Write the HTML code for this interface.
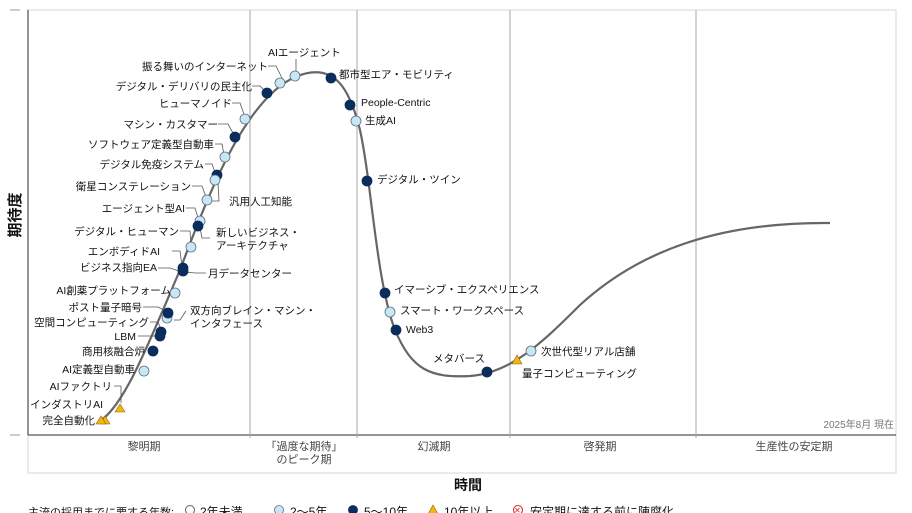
<!DOCTYPE html>
<html><head><meta charset="utf-8"><style>
html,body{margin:0;padding:0;background:#fff;}
svg{display:block;}
text{font-family:"Liberation Sans","Noto Sans CJK JP",sans-serif;font-size:10.5px;fill:#111;}
.l{stroke:#555;stroke-width:0.8;fill:none;}
.lt{fill:#c9e6f4;stroke:#5a6f80;stroke-width:0.8;}
.dk{fill:#0b2d5c;stroke:#0b2d5c;stroke-width:0.8;}
.tr{fill:#f3b515;stroke:#8a6a10;stroke-width:0.6;}
</style></head><body>
<svg width="912" height="513" viewBox="0 0 912 513" xmlns="http://www.w3.org/2000/svg">
<rect x="28" y="10" width="868" height="463" fill="none" stroke="#e3e3e3" stroke-width="1.5"/>
<line x1="28" y1="10" x2="28" y2="435" stroke="#555" stroke-width="1.2"/>
<line x1="28" y1="435" x2="896" y2="435" stroke="#555" stroke-width="1.2"/>
<line x1="10" y1="10" x2="20" y2="10" stroke="#999"/>
<line x1="10" y1="435" x2="20" y2="435" stroke="#999"/>
<g stroke="#aaa" stroke-width="1">
<line x1="250" y1="10" x2="250" y2="438"/><line x1="357" y1="10" x2="357" y2="438"/>
<line x1="510" y1="10" x2="510" y2="438"/><line x1="696" y1="10" x2="696" y2="438"/>
</g>
<text x="20" y="215" transform="rotate(-90 20 215)" text-anchor="middle" style="font-size:15px;font-weight:bold;fill:#111">期待度</text>
<text x="468" y="490" text-anchor="middle" style="font-size:14px;font-weight:bold;fill:#111">時間</text>
<g text-anchor="middle">
<text x="144" y="450" style="font-size:11px;fill:#444">黎明期</text>
<text x="304" y="450" style="font-size:11px;fill:#444">「過度な期待」</text>
<text x="304" y="463" style="font-size:11px;fill:#444">のピーク期</text>
<text x="434" y="450" style="font-size:11px;fill:#444">幻滅期</text>
<text x="600" y="450" style="font-size:11px;fill:#444">啓発期</text>
<text x="794" y="450" style="font-size:11px;fill:#444">生産性の安定期</text>
</g>
<text x="894" y="428" text-anchor="end" style="font-size:10px;fill:#777">2025年8月 現在</text>
<path d="M100,421 C125,405 150,340 180,270 C210,190 245,100 295,77 C335,60 350,90 360,130 C372,185 376,280 395,330 C412,370 430,378 470,376 C510,373 540,345 580,305 C640,250 720,222 830,223" fill="none" stroke="#666" stroke-width="2.2"/>
<g class="l">
<polyline points="268,66 276,66 283,80"/><polyline points="296,59 296,72"/>
<polyline points="252,86 260,86 266,92"/><polyline points="232,103 240,103 245,117"/>
<polyline points="218,124 228,124 234,135"/><polyline points="215,144 222,144 224,155"/>
<polyline points="205,164 212,164 216,175"/><polyline points="192,186 202,186 206,197"/>
<polyline points="186,208 195,208 199,221"/><polyline points="180,231 190,231 191,245"/>
<polyline points="172,251 180,251 182,266"/><polyline points="158,268 170,268 182,272 196,273 206,273"/>
<polyline points="211,201 219,201 218,183"/><polyline points="210,238 202,238 200,228"/>
<polyline points="143,307 158,307 168,312"/><polyline points="174,320 180,320 186,311"/>
<polyline points="150,322 158,322 162,332"/><polyline points="138,336 155,336"/>
<polyline points="114,386 121,386 121,403"/>
</g>
<polygon class="tr" points="100,424 105,416 110,424"/><polygon class="tr" points="96,424 101,416 106,424"/>
<polygon class="tr" points="115,412 120,404 125,412"/>
<circle class="lt" cx="144" cy="371" r="5"/><circle class="dk" cx="153" cy="351" r="5"/>
<circle class="dk" cx="161" cy="332" r="5"/><circle class="dk" cx="160" cy="336" r="5"/>
<circle class="lt" cx="167" cy="318" r="5"/><circle class="dk" cx="168" cy="313" r="5"/>
<circle class="lt" cx="175" cy="293" r="5"/>
<circle class="dk" cx="183" cy="268" r="5"/><circle class="dk" cx="183" cy="271" r="5"/>
<circle class="lt" cx="191" cy="247" r="5"/>
<circle class="lt" cx="200" cy="221" r="5"/><circle class="dk" cx="198" cy="226" r="5"/>
<circle class="lt" cx="207" cy="200" r="5"/>
<circle class="dk" cx="217" cy="175" r="5"/><circle class="lt" cx="215" cy="180" r="5"/>
<circle class="lt" cx="225" cy="157" r="5"/><circle class="dk" cx="235" cy="137" r="5"/>
<circle class="lt" cx="245" cy="119" r="5"/><circle class="dk" cx="267" cy="93" r="5"/>
<circle class="lt" cx="280" cy="83" r="5"/><circle class="lt" cx="295" cy="76" r="5"/>
<circle class="dk" cx="331" cy="78" r="5"/><circle class="dk" cx="350" cy="105" r="5"/>
<circle class="lt" cx="356" cy="121" r="5"/><circle class="dk" cx="367" cy="181" r="5"/>
<circle class="dk" cx="385" cy="293" r="5"/><circle class="lt" cx="390" cy="312" r="5"/>
<circle class="dk" cx="396" cy="330" r="5"/><circle class="dk" cx="487" cy="372" r="5"/>
<polygon class="tr" points="512,364 517,355 522,364"/><circle class="lt" cx="531" cy="351" r="5"/>
<g text-anchor="end">
<text x="268" y="70">振る舞いのインターネット</text>
<text x="252" y="90">デジタル・デリバリの民主化</text>
<text x="232" y="107">ヒューマノイド</text>
<text x="218" y="128">マシン・カスタマー</text>
<text x="214" y="148">ソフトウェア定義型自動車</text>
<text x="204" y="168">デジタル免疫システム</text>
<text x="191" y="190">衛星コンステレーション</text>
<text x="185" y="212">エージェント型AI</text>
<text x="179" y="235">デジタル・ヒューマン</text>
<text x="160" y="255">エンボディドAI</text>
<text x="157" y="271">ビジネス指向EA</text>
<text x="171" y="294">AI創薬プラットフォーム</text>
<text x="142" y="311">ポスト量子暗号</text>
<text x="149" y="326">空間コンピューティング</text>
<text x="136" y="340">LBM</text>
<text x="145" y="355">商用核融合炉</text>
<text x="135" y="373">AI定義型自動車</text>
<text x="112" y="390">AIファクトリ</text>
<text x="103" y="408">インダストリAI</text>
<text x="95" y="424">完全自動化</text>
</g>
<text x="268" y="56">AIエージェント</text>
<text x="339" y="78">都市型エア・モビリティ</text>
<text x="361" y="106">People-Centric</text>
<text x="365" y="124">生成AI</text>
<text x="377" y="183">デジタル・ツイン</text>
<text x="229" y="205">汎用人工知能</text>
<text x="216" y="236">新しいビジネス・</text>
<text x="216" y="249">アーキテクチャ</text>
<text x="208" y="277">月データセンター</text>
<text x="190" y="314">双方向ブレイン・マシン・</text>
<text x="190" y="327">インタフェース</text>
<text x="394" y="293">イマーシブ・エクスペリエンス</text>
<text x="400" y="314">スマート・ワークスペース</text>
<text x="406" y="333">Web3</text>
<text x="433" y="362">メタバース</text>
<text x="541" y="355">次世代型リアル店舗</text>
<text x="522" y="377">量子コンピューティング</text>
<text x="28" y="516" style="font-size:11px">主流の採用までに要する年数:</text>
<circle cx="190" cy="510" r="4.5" fill="#fff" stroke="#666"/><text x="200" y="516" style="font-size:12px">2年未満</text>
<circle cx="279" cy="510" r="4.5" class="lt"/><text x="290" y="516" style="font-size:12px">2〜5年</text>
<circle cx="353" cy="510" r="4.5" class="dk"/><text x="364" y="516" style="font-size:12px">5〜10年</text>
<polygon class="tr" points="428,514 433,505 438,514"/><text x="444" y="516" style="font-size:12px">10年以上</text>
<circle cx="518" cy="510" r="4.5" fill="#fff" stroke="#d22"/><text x="514" y="513" style="font-size:8px;fill:#d22">✕</text><text x="530" y="516" style="font-size:12px">安定期に達する前に陳腐化</text>
</svg>
</body></html>
